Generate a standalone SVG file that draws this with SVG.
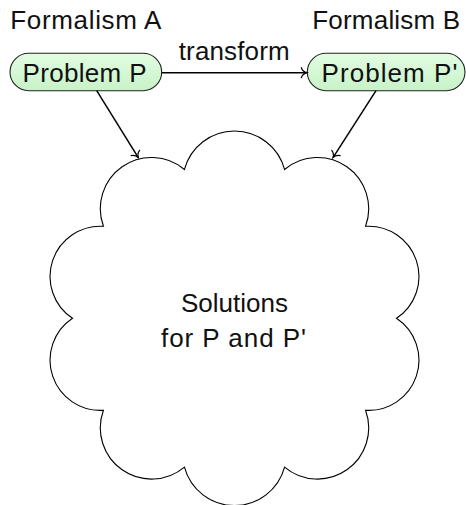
<svg xmlns="http://www.w3.org/2000/svg" width="466" height="505" viewBox="0 0 466 505">
  <defs>
    <linearGradient id="nodeFill" x1="0" y1="0" x2="0" y2="1">
      <stop offset="0" stop-color="#e2fde2"/>
      <stop offset="1" stop-color="#c8f2c8"/>
    </linearGradient>
    <!-- open curved "to" style arrowhead -->
    <marker id="to" markerUnits="userSpaceOnUse" markerWidth="14" markerHeight="14" viewBox="-7 -7 14 14" refX="0" refY="0" orient="auto" overflow="visible">
      <path d="M -5.5,-5 C -4.5,-2.2 -1.8,-0.5 0,0 C -1.8,0.5 -4.5,2.2 -5.5,5" fill="none" stroke="#000" stroke-width="1.2" stroke-linecap="round"/>
    </marker>
  </defs>
  <style>
    text { font-family: "Liberation Sans", Arial, sans-serif; font-size: 26px; fill: #111; text-anchor: middle; }
    .node rect { fill: url(#nodeFill); stroke: #222; stroke-width: 1.1; }
    .edge { fill: none; stroke: #000; stroke-width: 1.5; marker-end: url(#to); }
    .cloud { fill: #fff; stroke: #000; stroke-width: 1.1; stroke-linejoin: miter; }
  </style>

  <rect width="466" height="505" fill="#fff"/>

  <!-- formalism captions -->
  <text x="85.8" y="29.3" textLength="151">Formalism A</text>
  <text x="386.2" y="29.3" textLength="148">Formalism B</text>

  <!-- solutions cloud -->
  <g id="solutions">
    <path class="cloud" d="M 396.5,318.3
      A 50.24,50.24 0 0 1 365.56,410.29
      A 51.22,51.22 0 0 1 284.56,467.14
      A 51.83,51.83 0 0 1 184.44,467.14
      A 51.22,51.22 0 0 1 103.44,410.29
      A 50.24,50.24 0 0 1 72.5,318.3
      A 50.24,50.24 0 0 1 103.44,226.31
      A 51.22,51.22 0 0 1 184.44,169.46
      A 51.83,51.83 0 0 1 284.56,169.46
      A 51.22,51.22 0 0 1 365.56,226.31
      A 50.24,50.24 0 0 1 396.5,318.3 Z"/>
    <text x="234.5" y="311.7" textLength="107">Solutions</text>
    <text x="233.5" y="346.7" textLength="145">for P and P'</text>
  </g>

  <!-- problem nodes -->
  <g id="problemP" class="node">
    <rect x="10" y="53.3" width="151.7" height="37.4" rx="18.7" ry="18.7"/>
    <text x="84.5" y="81.7" textLength="124">Problem P</text>
  </g>
  <g id="problemP2" class="node">
    <rect x="307.3" y="53.3" width="157.7" height="37.4" rx="18.7" ry="18.7"/>
    <text x="389.5" y="81.7" textLength="136">Problem P'</text>
  </g>

  <!-- connectors -->
  <g id="connectors">
    <path class="edge" d="M 161.7,72.7 L 306.8,72.7"/>
    <text x="234.2" y="60" textLength="111">transform</text>
    <path class="edge" d="M 96.7,90.7 L 138.3,157.6"/>
    <path class="edge" d="M 376,90.7 L 333,157.6"/>
  </g>
</svg>
